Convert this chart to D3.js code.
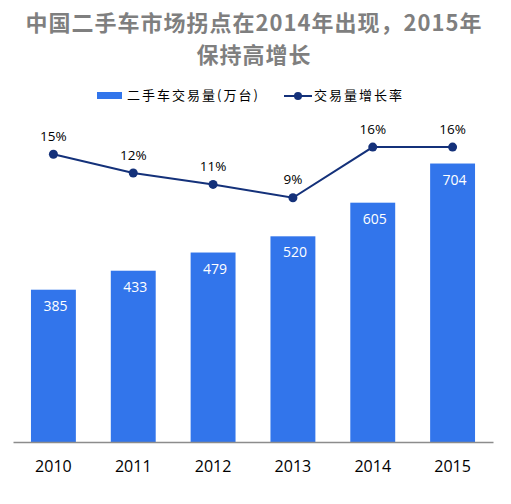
<!DOCTYPE html>
<html>
<head>
<meta charset="utf-8">
<script src="https://cdn.jsdelivr.net/npm/d3@7"></script>
<style>
  body { margin: 0; background: #fff; }
</style>
</head>
<body>
<div id="wrapper"></div>
<script>
// data
const years = ["2010", "2011", "2012", "2013", "2014", "2015"];
const volumes = [385, 433, 479, 520, 605, 704];
const growth = [0.153, 0.124, 0.1065, 0.086, 0.164, 0.164];
const titleLines = ["中国二手车市场拐点在2014年出现，2015年", "保持高增长"];
const barName = "二手车交易量(万台)";
const lineName = "交易量增长率";

const dimension = { width: 511, height: 504 };
const plot = { left: 13, right: 493, top: 86, bottom: 442 };

const svg = d3.select("#wrapper")
    .append("svg")
    .attr("width", dimension.width)
    .attr("height", dimension.height);

const xScaler = d3.scaleBand()
    .domain(years)
    .range([plot.left, plot.right])
    .paddingInner(0.4375)
    .paddingOuter(0.225);

const yScaler = d3.scaleLinear()
    .domain([0, 900])
    .range([plot.bottom, plot.top]);

const y2Scaler = d3.scaleLinear()
    .domain([-0.29, 0.258])
    .range([plot.bottom, plot.top]);

// title
svg.append("g").selectAll("text")
    .data(titleLines)
    .enter()
    .append("text")
    .attr("x", 254)
    .attr("y", (d, i) => 31 + i * 32)
    .attr("text-anchor", "middle")
    .attr("font-family", "'Noto Sans CJK SC', sans-serif")
    .attr("font-weight", "bold")
    .attr("font-size", "22px")
    .attr("letter-spacing", "1px")
    .attr("fill", "#7f7f7f")
    .text(d => d);

// legend
const legend = svg.append("g");
legend.append("rect")
    .attr("x", 97).attr("y", 92)
    .attr("width", 25).attr("height", 7)
    .attr("fill", "#3275eb");
legend.append("text")
    .attr("x", 127).attr("y", 100)
    .attr("font-family", "'Noto Sans CJK SC', sans-serif")
    .attr("font-size", "13px")
    .attr("letter-spacing", "2px")
    .attr("fill", "#000")
    .text(barName);
legend.append("line")
    .attr("x1", 284).attr("x2", 312)
    .attr("y1", 96).attr("y2", 96)
    .attr("stroke", "#14317a")
    .attr("stroke-width", 2);
legend.append("circle")
    .attr("cx", 298).attr("cy", 96).attr("r", 4)
    .attr("fill", "#14317a");
legend.append("text")
    .attr("x", 314).attr("y", 100)
    .attr("font-family", "'Noto Sans CJK SC', sans-serif")
    .attr("font-size", "13px")
    .attr("letter-spacing", "2px")
    .attr("fill", "#000")
    .text(lineName);

// bars
const bars = svg.append("g").selectAll("g")
    .data(years.map((y, i) => ({ year: y, value: volumes[i] })))
    .enter()
    .append("g");

bars.append("rect")
    .attr("x", d => xScaler(d.year))
    .attr("y", d => yScaler(d.value))
    .attr("width", xScaler.bandwidth())
    .attr("height", d => plot.bottom - yScaler(d.value))
    .attr("fill", "#3275eb");

bars.append("text")
    .attr("x", d => xScaler(d.year) + xScaler.bandwidth() / 2 + 2)
    .attr("y", d => yScaler(d.value) + 21)
    .attr("text-anchor", "middle")
    .attr("font-family", "'Open Sans', sans-serif")
    .attr("font-size", "14px")
    .attr("fill", "#fff")
    .text(d => d.value);

// x axis
const xAxisGen = d3.axisBottom(xScaler).tickSize(0).tickPadding(19);
const xAxis = svg.append("g")
    .attr("transform", `translate(0,${plot.bottom})`)
    .call(xAxisGen);
xAxis.select(".domain").attr("stroke", "#8c8c8c").attr("stroke-width", 1.5);
xAxis.selectAll("text")
    .attr("font-family", "'Open Sans', sans-serif")
    .attr("font-size", "16px")
    .attr("fill", "#000");

// growth line
const lineData = years.map((y, i) => ({ year: y, value: growth[i] }));
const cx = d => xScaler(d.year) + xScaler.bandwidth() / 2;

const lineGen = d3.line()
    .x(cx)
    .y(d => y2Scaler(d.value));

svg.append("path")
    .datum(lineData)
    .attr("d", lineGen)
    .attr("fill", "none")
    .attr("stroke", "#14317a")
    .attr("stroke-width", 2);

svg.append("g").selectAll("circle")
    .data(lineData)
    .enter()
    .append("circle")
    .attr("cx", cx)
    .attr("cy", d => y2Scaler(d.value))
    .attr("r", 4.5)
    .attr("fill", "#14317a");

svg.append("g").selectAll("text")
    .data(lineData)
    .enter()
    .append("text")
    .attr("x", cx)
    .attr("y", d => y2Scaler(d.value) - 13.5)
    .attr("text-anchor", "middle")
    .attr("font-family", "'Open Sans', sans-serif")
    .attr("font-size", "13.5px")
    .attr("fill", "#000")
    .text(d => d3.format(".0%")(d.value));
</script>
</body>
</html>
